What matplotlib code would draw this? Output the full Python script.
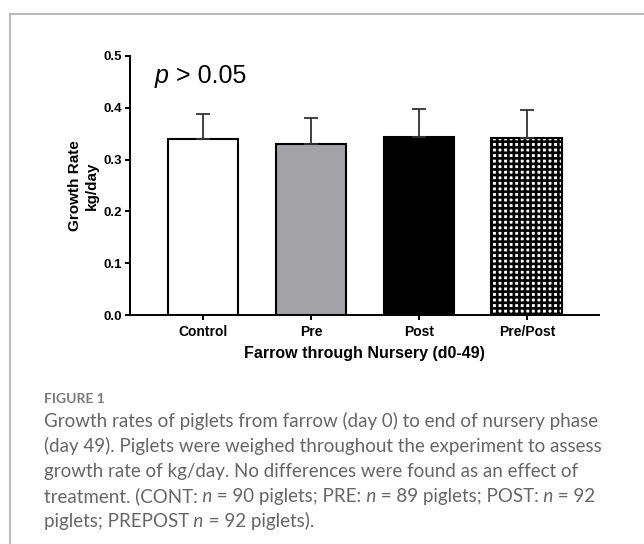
import matplotlib
matplotlib.use("Agg")
import matplotlib.pyplot as plt
from matplotlib.lines import Line2D

# growth rate (kg/day), mean and upper SEM per treatment
groups = ["Control", "Pre", "Post", "Pre/Post"]
rate = [0.339, 0.330, 0.343, 0.342]
err = [0.049, 0.050, 0.055, 0.054]
yticks = [0.0, 0.1, 0.2, 0.3, 0.4, 0.5]
ytick_labels = ["0.0", "0.1", "0.2", "0.3", "0.4", "0.5"]

caption_lines = [
    [("Growth rates of piglets from farrow (day 0) to end of nursery phase", "normal")],
    [("(day 49). Piglets were weighed throughout the experiment to assess", "normal")],
    [("growth rate of kg/day. No differences were found as an effect of", "normal")],
    [("treatment. (CONT:", "normal"), (" n", "italic"), (" = 90 piglets; PRE:", "normal"),
     (" n", "italic"), (" = 89 piglets; POST:", "normal"), (" n", "italic"), (" = 92", "normal")],
    [("piglets; PREPOST", "normal"), (" n", "italic"), (" = 92 piglets).", "normal")],
]

plt.rcParams["font.family"] = ["Liberation Sans", "DejaVu Sans"]
plt.rcParams["hatch.linewidth"] = 1.9

W, H = 644, 544
fig = plt.figure(figsize=(W / 100, H / 100), dpi=100)
ax = fig.add_axes([130 / W, 1 - 315 / H, (599 - 130) / W, (315 - 56) / H])

x = list(range(len(groups)))
faces = ["white", "#a3a2a7", "black", "white"]
hatches = [None, None, None, "+++"]
bars = ax.bar(x, rate, width=0.657, color=faces, edgecolor="black", linewidth=1.5, zorder=2)
for b, h in zip(bars, hatches):
    if h:
        b.set_hatch(h)
ax.errorbar(x, rate, yerr=[[0] * len(err), err], fmt="none", ecolor="#333333",
            elinewidth=1.3, capsize=5, capthick=1.3, zorder=3)

ax.set_xlim(-0.676, 3.667)
ax.set_ylim(0, 0.5)
ax.set_yticks(yticks)
ax.set_yticklabels(ytick_labels, fontweight="bold", fontsize=9.5)
ax.set_xticks(x)
ax.set_xticklabels(groups, fontweight="bold", fontsize=10)
for s in ["top", "right"]:
    ax.spines[s].set_visible(False)
for s in ["left", "bottom"]:
    ax.spines[s].set_linewidth(1.4)
ax.tick_params(axis="y", length=3.6, width=1.4, pad=2)
ax.tick_params(axis="x", length=3.6, width=1.4, pad=3.5)

ax.set_ylabel("Growth Rate\nkg/day", fontweight="bold", fontsize=11, linespacing=1.3)
ax.yaxis.set_label_coords(-0.066, 0.5)
ax.set_xlabel("Farrow through Nursery (d0-49)", fontweight="bold", fontsize=11.5)
ax.xaxis.set_label_coords(0.5, -0.12)

# p-value note: italic p followed by the rest
t = ax.text(-0.444, 0.447, "p", fontsize=18, fontstyle="italic", va="baseline", ha="left")
ax.annotate(" > 0.05", xy=(1, 0), xycoords=t, fontsize=18, va="bottom", ha="left")

# caption
fig.text(44 / W, 1 - 403 / H, "FIGURE 1", family="Lato", fontweight="bold",
         fontsize=10, color="#7a7a7a", va="baseline", ha="left")


def rich_line(xpix, ypix, parts):
    prev = None
    for s, style in parts:
        kw = dict(family="Lato", fontweight="normal", fontstyle=style, fontsize=13.5,
                  color="#666666", ha="left", annotation_clip=False)
        if prev is None:
            prev = ax.annotate(s, xy=(xpix, H - ypix), xycoords="figure pixels",
                               va="baseline", **kw)
        else:
            prev = ax.annotate(s, xy=(1, 0), xycoords=prev, va="bottom", **kw)


for i, parts in enumerate(caption_lines):
    rich_line(44, 427 + 25 * i, parts)

# panel frame
fig.add_artist(Line2D([9.5 / W, 9.5 / W], [0, 1 - 14 / H], transform=fig.transFigure,
                      color="#b9b9b9", lw=1.4))
fig.add_artist(Line2D([9.5 / W, 1], [1 - 14 / H, 1 - 14 / H], transform=fig.transFigure,
                      color="#b9b9b9", lw=1.4))

fig.savefig("out.png", dpi=100)
